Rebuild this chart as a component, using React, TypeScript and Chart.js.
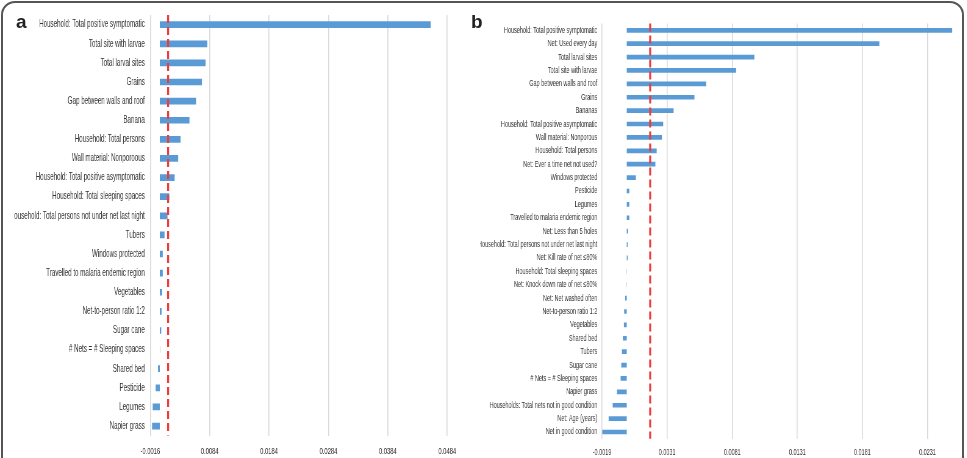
import React, { useEffect, useRef } from 'react';
import { Chart, registerables } from 'chart.js';

Chart.register(...registerables);

// ---- Panel a ----
const factorsA = [
  'Household: Total positive symptomatic',
  'Total site with larvae',
  'Total larval sites',
  'Grains',
  'Gap between walls and roof',
  'Banana',
  'Household: Total persons',
  'Wall material: Nonporoous',
  'Household: Total positive asymptomatic',
  'Household: Total sleeping spaces',
  'Household: Total persons not under net last night',
  'Tubers',
  'Windows protected',
  'Travelled to malaria endemic region',
  'Vegetables',
  'Net-to-person ratio 1:2',
  'Sugar cane',
  '# Nets = # Sleeping spaces',
  'Shared bed',
  'Pesticide',
  'Legumes',
  'Napier grass',
];
const importanceA = [
  0.0456, 0.008, 0.0077, 0.0071, 0.0061, 0.005, 0.0035, 0.0031, 0.0025, 0.0016, 0.0013,
  0.0008, 0.0005, 0.0005, 0.0004, 0.0003, 0.00025, 0.00005, -0.0003, -0.0007, -0.0012, -0.0013,
];
const ticksA = [-0.0016, 0.0084, 0.0184, 0.0284, 0.0384, 0.0484];
const cutoffA = 0.0014;

// ---- Panel b ----
const factorsB = [
  'Household: Total positive symptomatic',
  'Net: Used every day',
  'Total larval sites',
  'Total site with larvae',
  'Gap between walls and roof',
  'Grains',
  'Bananas',
  'Household: Total positive asymptomatic',
  'Wall material: Nonporous',
  'Household: Total persons',
  'Net: Ever a time net not used?',
  'Windows protected',
  'Pesticide',
  'Legumes',
  'Travelled to malaria endemic region',
  'Net: Less than 5 holes',
  'Household: Total persons not under net last night',
  'Net: Kill rate of net ≤80%',
  'Household: Total sleeping spaces',
  'Net: Knock down rate of net ≤80%',
  'Net: Net washed often',
  'Net-to-person ratio 1:2',
  'Vegetables',
  'Shared bed',
  'Tubers',
  'Sugar cane',
  '# Nets = # Sleeping spaces',
  'Napier grass',
  'Households: Total nets not in good condition',
  'Net: Age (years)',
  'Net in good condition',
];
const importanceB = [
  0.025, 0.0194, 0.0098, 0.0084, 0.0061, 0.0052, 0.0036, 0.0028, 0.0027, 0.0023, 0.0022,
  0.0007, 0.0002, 0.0002, 0.0002, 0.0001, 0.00007, 0.00007, 0.00002, -0.00002, -0.00012,
  -0.0002, -0.00022, -0.0003, -0.00037, -0.00042, -0.00047, -0.00075, -0.00108, -0.00139, -0.00188,
];
const ticksB = [-0.0019, 0.0031, 0.0081, 0.0131, 0.0181, 0.0231, 0.0281];
const cutoffB = 0.0018;

// Horizontal squeeze applied to both panels
const SX = 0.61;
const FONT = "'Liberation Sans', Arial, sans-serif";
const BAR = '#5B9BD5';
const TEXT = '#333333';

type PanelSpec = {
  labels: string[];
  values: number[];
  ticks: number[];
  cutoff: number;
  labelSize: number;
  tickSize: number;
  yWidth: number;
  yPad: number;
  xHeight: number;
  xPad: number;
  padTop: number;
  padRight: number;
};

function cutoffLine(value: number) {
  return {
    id: 'cutoffLine',
    afterDatasetsDraw(chart: any) {
      const x = chart.scales.x.getPixelForValue(value);
      const { top, bottom } = chart.chartArea;
      const ctx = chart.ctx;
      ctx.save();
      ctx.strokeStyle = '#EE3B3B';
      ctx.lineWidth = 2 / SX;
      ctx.setLineDash([8, 4]);
      ctx.beginPath();
      ctx.moveTo(x, top);
      ctx.lineTo(x, bottom);
      ctx.stroke();
      ctx.restore();
    },
  };
}

function buildChart(canvas: HTMLCanvasElement, p: PanelSpec) {
  return new Chart(canvas, {
    type: 'bar',
    data: {
      labels: p.labels,
      datasets: [
        {
          data: p.values,
          backgroundColor: BAR,
          borderWidth: 0,
          barPercentage: 0.35,
          categoryPercentage: 1,
        },
      ],
    },
    options: {
      indexAxis: 'y',
      responsive: false,
      animation: false,
      devicePixelRatio: 1,
      layout: { padding: { top: p.padTop, right: p.padRight, left: 0, bottom: 0 } },
      plugins: { legend: { display: false }, tooltip: { enabled: false } },
      scales: {
        x: {
          type: 'linear',
          min: p.ticks[0],
          max: p.ticks[p.ticks.length - 1],
          afterBuildTicks: (scale: any) => {
            scale.ticks = p.ticks.map((v) => ({ value: v }));
          },
          afterFit: (scale: any) => {
            scale.height = p.xHeight;
          },
          grid: { color: '#d9d9d9', lineWidth: 1.6, drawTicks: false },
          border: { display: false },
          ticks: {
            padding: p.xPad,
            maxRotation: 0,
            autoSkip: false,
            color: TEXT,
            font: { family: FONT, size: p.tickSize },
            callback: (v: any) => Number(v).toFixed(4),
          },
        },
        y: {
          afterFit: (scale: any) => {
            scale.width = p.yWidth;
          },
          grid: { display: false, drawTicks: false },
          border: { display: false },
          ticks: {
            padding: p.yPad,
            autoSkip: false,
            color: TEXT,
            font: { family: FONT, size: p.labelSize },
          },
        },
      },
    } as any,
    plugins: [cutoffLine(p.cutoff)],
  });
}

const WA = 750;
const WB = 870;
const H = 458;

export default function App() {
  const refA = useRef<HTMLCanvasElement>(null);
  const refB = useRef<HTMLCanvasElement>(null);

  useEffect(() => {
    const a = buildChart(refA.current!, {
      labels: factorsA,
      values: importanceA,
      ticks: ticksA,
      cutoff: cutoffA,
      labelSize: 10.2,
      tickSize: 9.5,
      yWidth: 223.4,
      yPad: 9,
      xHeight: 22.4,
      xPad: 10,
      padTop: 14.2,
      padRight: 39.8,
    });
    const b = buildChart(refB.current!, {
      labels: factorsB,
      values: importanceB,
      ticks: ticksB,
      cutoff: cutoffB,
      labelSize: 9,
      tickSize: 9,
      yWidth: 200,
      yPad: 7.7,
      xHeight: 19.3,
      xPad: 8.6,
      padTop: 23.6,
      padRight: 29.7,
    });
    return () => {
      a.destroy();
      b.destroy();
    };
  }, []);

  const letter: React.CSSProperties = {
    position: 'absolute',
    top: 12,
    fontFamily: FONT,
    fontWeight: 'bold',
    fontSize: 19,
    lineHeight: '19px',
    color: '#222',
  };

  return (
    <div
      style={{
        position: 'fixed',
        left: 0,
        top: 0,
        width: 967,
        height: H,
        overflow: 'hidden',
        background: '#fff',
      }}
    >
      <canvas
        ref={refA}
        width={WA}
        height={H}
        style={{
          position: 'absolute',
          left: 13.5,
          top: 0,
          width: WA,
          height: H,
          transform: `scaleX(${SX})`,
          transformOrigin: '0 0',
        }}
      />
      <div style={{ position: 'absolute', left: 480, top: 0, width: 481, height: H, overflow: 'hidden' }}>
        <canvas
          ref={refB}
          width={WB}
          height={H}
          style={{
            position: 'absolute',
            left: 0,
            top: 0,
            width: WB,
            height: H,
            transform: `scaleX(${SX})`,
            transformOrigin: '0 0',
          }}
        />
      </div>
      <div style={{ ...letter, left: 16 }}>a</div>
      <div style={{ ...letter, left: 471 }}>b</div>
      <div
        style={{
          position: 'absolute',
          left: 1,
          top: 1,
          width: 963,
          height: 520,
          boxSizing: 'border-box',
          border: '2px solid #555',
          borderRadius: 14,
          pointerEvents: 'none',
        }}
      />
    </div>
  );
}
